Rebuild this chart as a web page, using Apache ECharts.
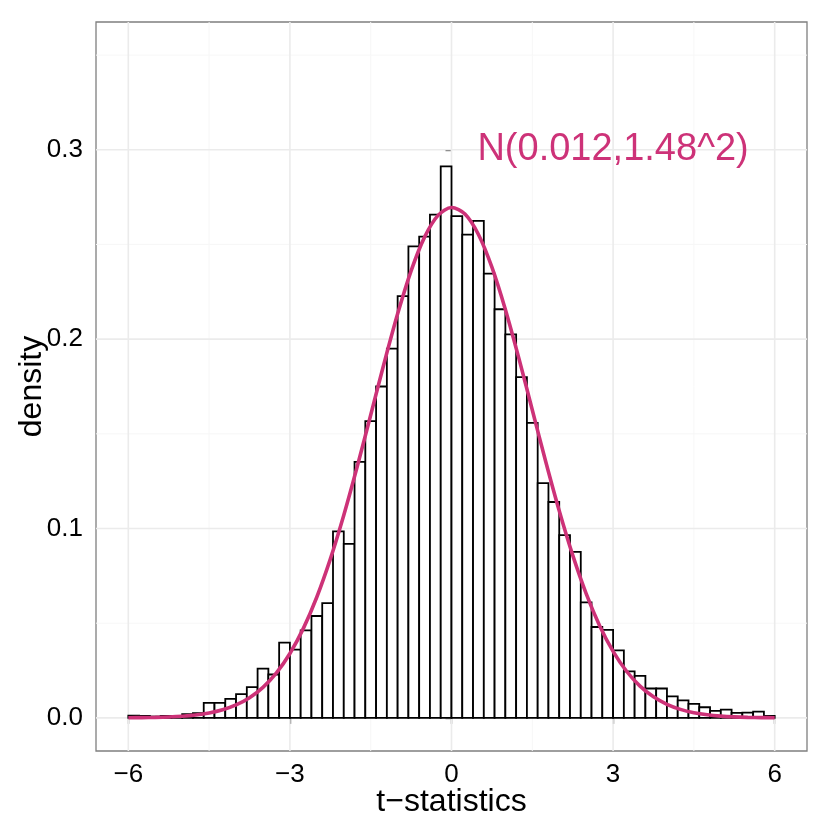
<!DOCTYPE html>
<html>
<head>
<meta charset="utf-8">
<script src="https://cdn.jsdelivr.net/npm/echarts@6/dist/echarts.min.js"></script>
<style>
html,body{margin:0;padding:0;background:#fff;}
#chart{width:830px;height:830px;}
</style>
</head>
<body>
<div id="chart"></div>
<script>
// ---- data ----
const binStart0 = -6;
const binWidth = 0.2;
const densities = [
  0.0012, 0.0010, 0.0007, 0.0010, 0.0009, 0.0020, 0.0025, 0.0079, 0.0079, 0.0100,
  0.0125, 0.0162, 0.0260, 0.0229, 0.0397, 0.0360, 0.0462, 0.0538, 0.0606, 0.0985,
  0.0919, 0.1352, 0.1567, 0.1750, 0.1950, 0.2227, 0.2490, 0.2542, 0.2658, 0.2913,
  0.2650, 0.2552, 0.2625, 0.2346, 0.2158, 0.2025, 0.1800, 0.1558, 0.1240, 0.1140,
  0.0965, 0.0877, 0.0610, 0.0480, 0.0465, 0.0356, 0.0245, 0.0222, 0.0155, 0.0155,
  0.0113, 0.0092, 0.0074, 0.0056, 0.0037, 0.0044, 0.0026, 0.0028, 0.0033, 0.0011
];
const curveX = [-6,-5.75,-5.5,-5.25,-5,-4.75,-4.5,-4.25,-4,-3.75,-3.5,-3.25,-3,-2.75,-2.5,-2.25,-2,-1.75,-1.5,-1.25,-1,-0.75,-0.5,-0.25,0,
  0.25,0.5,0.75,1,1.25,1.5,1.75,2,2.25,2.5,2.75,3,3.25,3.5,3.75,4,4.25,4.5,4.75,5,5.25,5.5,5.75,6];
const curveY = [0.00007,0.000138,0.000262,0.000485,0.000872,0.001523,0.002586,0.004265,0.006839,0.010656,0.016138,0.023756,0.033987,0.047254,0.063843,0.083828,0.10699,0.13271,0.15996,0.18740,0.21337,0.23610,0.25390,0.26537,0.26955,
  0.26610,0.25530,0.23805,0.21572,0.18999,0.16261,0.13527,0.10936,0.08592,0.06562,0.04870,0.03512,0.02462,0.01677,0.01110,0.007143,0.004469,0.002717,0.001604,0.000921,0.000514,0.000278,0.000147,0.000075];
const xTicks = [-6, -3, 0, 3, 6];
const xTickLabels = ['\u22126', '\u22123', '0', '3', '6'];
const xMinor = [-4.5, -1.5, 1.5, 4.5];
const yTicks = [0, 0.1, 0.2, 0.3];
const yTickLabels = ['0.0', '0.1', '0.2', '0.3'];
const yMinor = [0.05, 0.15, 0.25, 0.35];
const annotationText = 'N(0.012,1.48^2)';
const annotationPos = [3, 0.3];
const xTitle = 't\u2212statistics';
const yTitle = 'density';

// ---- build ----
const X_MIN = -6.6, X_MAX = 6.6, Y_MIN = -0.0175, Y_MAX = 0.3675;
const histData = densities.map((d, i) => {
  const x0 = +(binStart0 + i * binWidth).toFixed(4);
  return [x0, +(x0 + binWidth).toFixed(4), d];
});
const curveData = curveX.map((x, i) => [x, curveY[i]]);
// grid lines: [orientation (0 = vertical at x, 1 = horizontal at y), value, major?]
const gridData = [
  ...xMinor.map(v => [0, v, 0]), ...yMinor.map(v => [1, v, 0]),
  ...xTicks.map(v => [0, v, 1]), ...yTicks.map(v => [1, v, 1])
];

const FONT = '"Liberation Sans", Arial, Helvetica, sans-serif';
const chart = echarts.init(document.getElementById('chart'), null, {renderer: 'canvas'});

chart.setOption({
  animation: false,
  backgroundColor: '#ffffff',
  grid: {left: 96, top: 22, width: 711, height: 729, show: true, outerBoundsMode: 'none', containLabel: false,
         borderColor: '#7F7F7F', borderWidth: 1.3, backgroundColor: '#ffffff'},
  xAxis: {
    type: 'value', min: X_MIN, max: X_MAX,
    axisLine: {show: false},
    splitLine: {show: false},
    axisTick: {show: true, customValues: xTicks, length: 6, inside: false,
               lineStyle: {color: '#333333', width: 1.3}},
    axisLabel: {customValues: xTicks, margin: 11, color: '#000', fontSize: 26, fontFamily: FONT,
                formatter: v => { const k = xTicks.findIndex(t => Math.abs(t - v) < 1e-9); return k >= 0 ? xTickLabels[k] : ''; }},
    name: xTitle, nameLocation: 'middle', nameGap: 35, nameMoveOverlap: false,
    nameTextStyle: {fontSize: 32, color: '#000', fontFamily: FONT}
  },
  yAxis: {
    type: 'value', min: Y_MIN, max: Y_MAX,
    axisLine: {show: false},
    splitLine: {show: false},
    axisTick: {show: true, customValues: yTicks, length: 6, inside: false,
               lineStyle: {color: '#333333', width: 1.3}},
    axisLabel: {customValues: yTicks, margin: 13, color: '#000', fontSize: 26, fontFamily: FONT,
                formatter: v => { const k = yTicks.findIndex(t => Math.abs(t - v) < 1e-9); return k >= 0 ? yTickLabels[k] : ''; }},
    name: yTitle, nameLocation: 'middle', nameGap: 48, nameRotate: 90, nameMoveOverlap: false,
    nameTextStyle: {fontSize: 32, color: '#000', fontFamily: FONT}
  },
  series: [
    {
      type: 'custom', z: 1, silent: true,
      data: gridData,
      encode: {x: [], y: []},
      renderItem: function (params, api) {
        const isH = api.value(0) === 1, v = api.value(1), major = api.value(2) === 1;
        const a = isH ? api.coord([X_MIN, v]) : api.coord([v, Y_MIN]);
        const b = isH ? api.coord([X_MAX, v]) : api.coord([v, Y_MAX]);
        return {
          type: 'line',
          shape: {x1: a[0], y1: a[1], x2: b[0], y2: b[1]},
          style: {stroke: major ? '#EBEBEB' : '#F7F7F7', lineWidth: major ? 1.6 : 1}
        };
      }
    },
    {
      type: 'custom', z: 2,
      data: histData,
      encode: {x: [0, 1], y: 2},
      renderItem: function (params, api) {
        const p0 = api.coord([api.value(0), api.value(2)]);
        const p1 = api.coord([api.value(1), 0]);
        return {
          type: 'rect',
          shape: {x: p0[0], y: p0[1], width: p1[0] - p0[0], height: p1[1] - p0[1]},
          style: {fill: '#ffffff', stroke: '#000000', lineWidth: 1.8}
        };
      }
    },
    {
      type: 'line', z: 3, data: curveData, smooth: 0.3, symbol: 'none',
      lineStyle: {color: '#CD3278', width: 3.6}
    },
    {
      type: 'custom', z: 4, silent: true, data: [annotationPos],
      renderItem: function (params, api) {
        const p = api.coord([api.value(0), api.value(1)]);
        return {
          type: 'text', x: p[0], y: p[1],
          style: {text: annotationText, fill: '#CD3278', fontSize: 38, fontFamily: FONT,
                  align: 'center', verticalAlign: 'middle'}
        };
      }
    }
  ]
});
</script>
</body>
</html>
